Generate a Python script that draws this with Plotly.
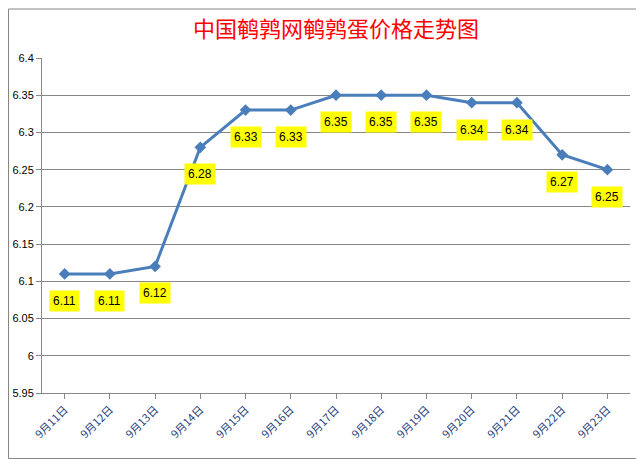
import plotly.graph_objects as go

dates = ["9月11日","9月12日","9月13日","9月14日","9月15日","9月16日","9月17日","9月18日","9月19日","9月20日","9月21日","9月22日","9月23日"]
prices = [6.11,6.11,6.12,6.28,6.33,6.33,6.35,6.35,6.35,6.34,6.34,6.27,6.25]
yticks = [5.95,6,6.05,6.1,6.15,6.2,6.25,6.3,6.35,6.4]
ytext = ["5.95","6","6.05","6.1","6.15","6.2","6.25","6.3","6.35","6.4"]

W, H = 636, 451
L, R, T, B = 34, 14, 50, 66
pw, ph = W - L - R, H - T - B

fig = go.Figure(go.Scatter(x=dates, y=prices, mode="lines+markers",
    line=dict(color="#4a7ebb", width=3),
    marker=dict(symbol="diamond", size=9, color="#4a7ebb")))

for d, p in zip(dates, prices):
    fig.add_annotation(x=d, y=p, text=f"{p:.2f}", showarrow=False, yshift=-27,
        bgcolor="#ffff00", font=dict(size=12, color="black", family="Liberation Sans"), borderpad=3)

fig.update_layout(
    width=W, height=H, paper_bgcolor="white", plot_bgcolor="white",
    margin=dict(l=L, r=R, t=T, b=B, autoexpand=False), showlegend=False,
    title=dict(text="中国鹌鹑网鹌鹑蛋价格走势图", x=0.5, xref="paper", y=1 - 14 / H, yanchor="top", xanchor="center",
               font=dict(size=22, color="#ff0000", family="Noto Sans CJK SC")),
    xaxis=dict(type="category", range=[-0.5, 12.5], tickangle=-45, showline=True,
               linecolor="#868686", ticks="outside", ticklen=5, tickcolor="#868686",
               tickfont=dict(size=11, color="#1f3f7f", family="Noto Sans CJK SC")),
    yaxis=dict(range=[5.95, 6.4], tickvals=yticks, ticktext=ytext, showgrid=True,
               gridcolor="#868686", gridwidth=1, showline=True, linecolor="#868686",
               ticks="outside", ticklen=5, tickcolor="#868686", automargin=False,
               tickfont=dict(size=11, color="black", family="Liberation Sans")),
    shapes=[dict(type="rect", xref="paper", yref="paper",
                 x0=-L / pw + 0.5 / pw, x1=1 + (R - 1) / pw, y0=-B / ph + 0.5 / ph, y1=1 + (T - 1) / ph,
                 line=dict(color="#868686", width=1))],
)
fig.write_html("out.html")
